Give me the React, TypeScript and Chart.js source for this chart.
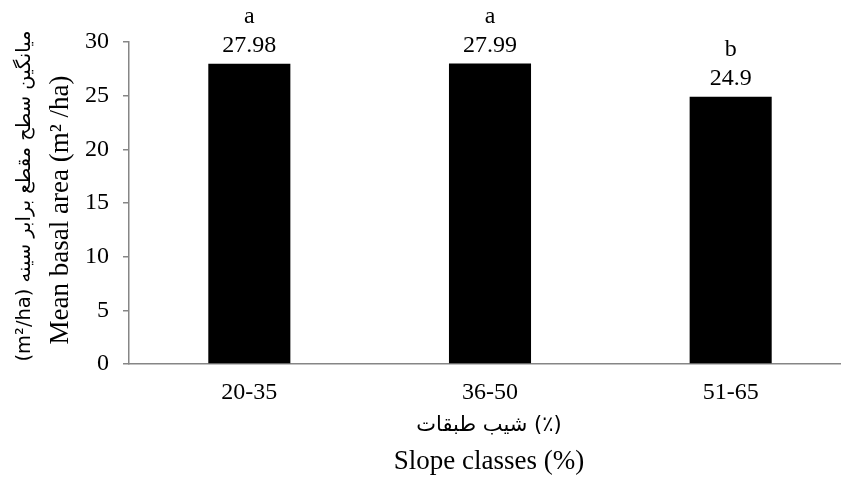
import React, { useEffect, useRef } from "react";
import { Chart, registerables } from "chart.js";

Chart.register(...registerables);

const categories = ["20-35", "36-50", "51-65"];
const meanBasalArea = [27.98, 27.99, 24.9];
const valueLabels = ["27.98", "27.99", "24.9"];
const groupLetters = ["a", "a", "b"];
const yMin = 0;
const yMax = 30;
const yStep = 5;
const yTitleFa = "میانگین سطح مقطع برابر سینه (m²/ha)";
const yTitleEn = "Mean basal area (m² /ha)";
const xTitleFa = "طبقات شیب (٪)";
const xTitleEn = "Slope classes (%)";

const FONT = '"Liberation Serif", "DejaVu Serif", serif';
const FA_FONT = '"DejaVu Sans", sans-serif';
const AXIS_GRAY = "#868686";

const labelsPlugin = {
  id: "customLabels",
  afterDraw(chart: any) {
    const ctx: CanvasRenderingContext2D = chart.ctx;
    const meta = chart.getDatasetMeta(0);
    ctx.save();
    ctx.fillStyle = "#000";
    ctx.font = `24px ${FONT}`;
    ctx.textAlign = "center";
    ctx.textBaseline = "alphabetic";
    meta.data.forEach((bar: any, i: number) => {
      const vy = bar.y - 12;
      ctx.fillText(valueLabels[i], bar.x, vy);
      ctx.fillText(groupLetters[i], bar.x, vy - 29);
    });

    const cx = 489;
    ctx.textBaseline = "middle";

    // Persian x title, words laid out left to right as in the reference
    ctx.font = `21px ${FA_FONT}`;
    ctx.direction = "rtl";
    const words = xTitleFa.split(" ");
    const space = ctx.measureText(" ").width;
    const widths = words.map((w) => ctx.measureText(w).width);
    const total = widths.reduce((a, b) => a + b, 0) + space * (words.length - 1);
    let x = cx - total / 2;
    ctx.textAlign = "left";
    words.forEach((w, i) => {
      ctx.fillText(w, x, 426);
      x += widths[i] + space;
    });

    // English x title
    ctx.direction = "ltr";
    ctx.textAlign = "center";
    ctx.font = `27px ${FONT}`;
    ctx.fillText(xTitleEn, cx, 462);

    // y titles (rotated)
    ctx.save();
    ctx.translate(61, 210);
    ctx.rotate(-Math.PI / 2);
    ctx.direction = "ltr";
    ctx.font = `27px ${FONT}`;
    ctx.fillText(yTitleEn, 0, 0);
    ctx.restore();

    ctx.save();
    ctx.translate(25, 196);
    ctx.rotate(-Math.PI / 2);
    ctx.direction = "rtl";
    ctx.textAlign = "center";
    ctx.font = `19.5px ${FA_FONT}`;
    ctx.fillText(yTitleFa, 0, 0);
    ctx.restore();

    ctx.restore();
  },
};

export default function App() {
  const ref = useRef<HTMLCanvasElement | null>(null);

  useEffect(() => {
    if (!ref.current) return;
    const chart = new Chart(ref.current, {
      type: "bar",
      data: {
        labels: categories,
        datasets: [
          {
            data: meanBasalArea,
            backgroundColor: "#000",
            borderWidth: 0,
            barPercentage: 0.341,
            categoryPercentage: 1,
          },
        ],
      },
      options: {
        responsive: false,
        animation: false,
        devicePixelRatio: 1,
        layout: { padding: { top: 42, right: 1, left: 0, bottom: 0 } },
        plugins: {
          legend: { display: false },
          tooltip: { enabled: false },
        },
        scales: {
          x: {
            afterFit: (scale: any) => {
              scale.height = 113;
            },
            grid: { display: true, drawOnChartArea: false, drawTicks: false },
            border: { color: AXIS_GRAY, width: 1.5 },
            ticks: {
              color: "#000",
              font: { family: FONT, size: 24 },
              padding: 14,
            },
          },
          y: {
            min: yMin,
            max: yMax,
            afterFit: (scale: any) => {
              scale.width = 129;
            },
            grid: {
              drawOnChartArea: false,
              drawTicks: true,
              tickLength: 6,
              color: AXIS_GRAY,
              lineWidth: 1.5,
            },
            border: { color: AXIS_GRAY, width: 1.5 },
            ticks: {
              stepSize: yStep,
              color: "#000",
              font: { family: FONT, size: 24 },
              padding: 14,
            },
          },
        },
      },
      plugins: [labelsPlugin],
    });
    return () => chart.destroy();
  }, []);

  return (
    <div
      style={{
        position: "fixed",
        left: 0,
        top: 0,
        width: "100vw",
        height: "100vh",
        overflow: "hidden",
        background: "#fff",
      }}
    >
      <canvas ref={ref} width={852} height={477} style={{ display: "block" }} />
    </div>
  );
}
